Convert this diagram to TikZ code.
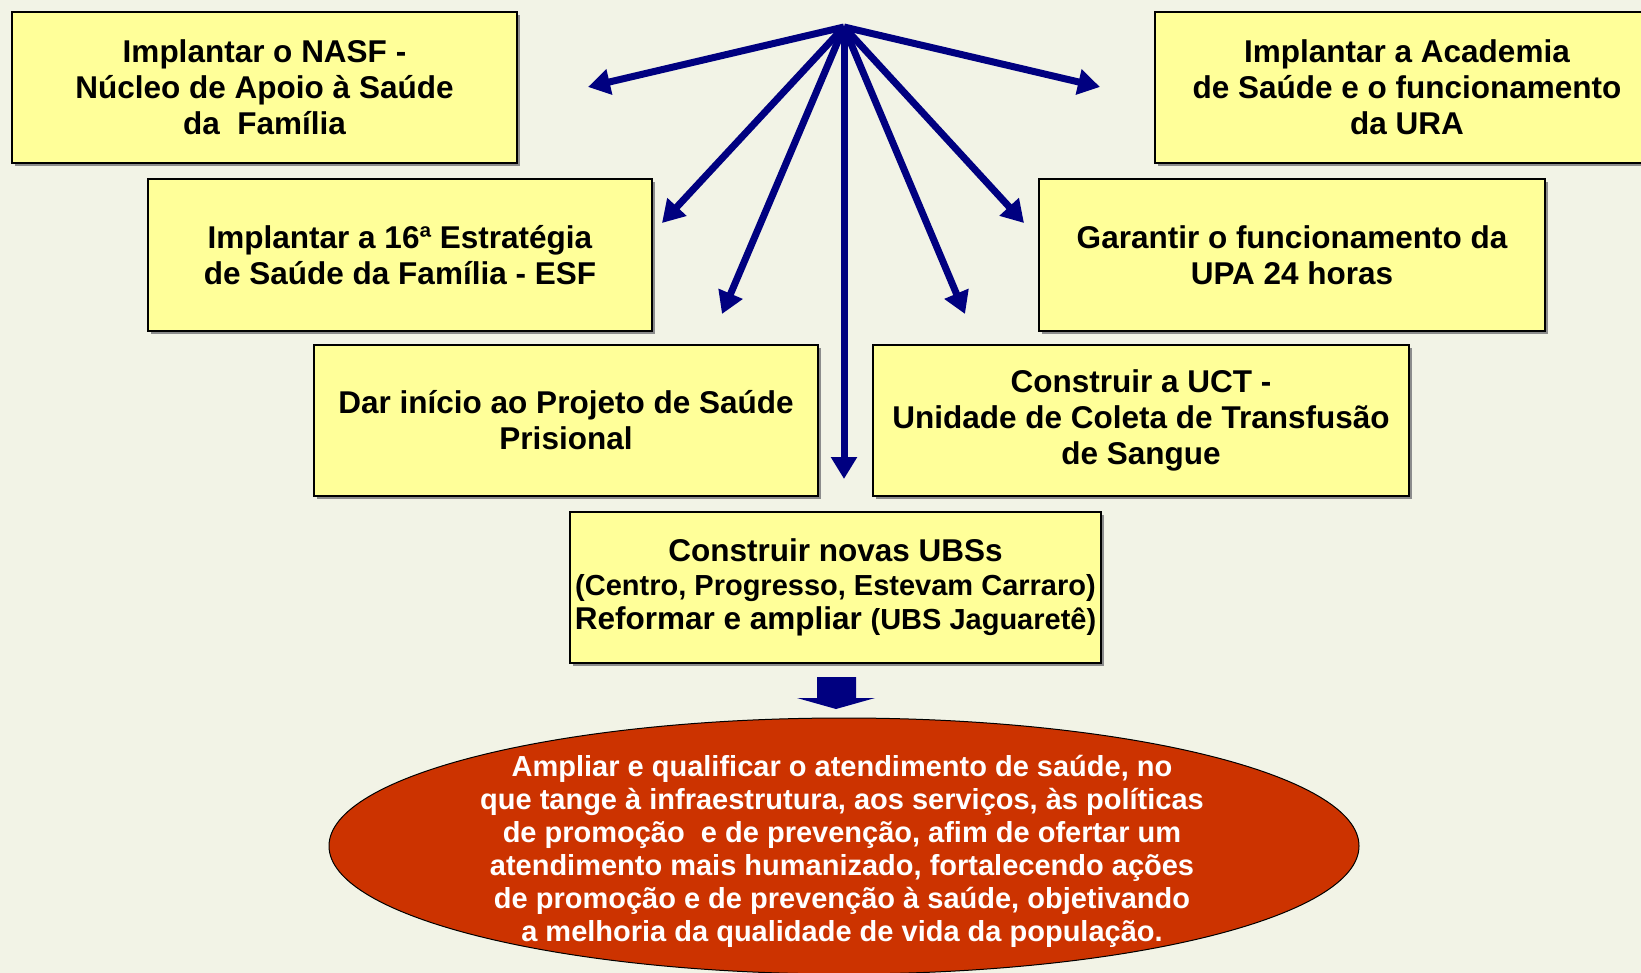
\documentclass[tikz,border=0pt]{standalone}
\usepackage{fontspec}
\setmainfont{Liberation Sans}
\usetikzlibrary{arrows.meta,shapes.geometric,shadows}
\definecolor{bgc}{RGB}{242,243,230}
\definecolor{boxc}{RGB}{255,255,153}
\definecolor{navy}{RGB}{0,0,128}
\definecolor{goalc}{RGB}{204,51,0}
\begin{document}
\begin{tikzpicture}[x=1pt,y=-1pt,
  goalbox/.style={draw=black, line width=1.5pt, fill=boxc, align=center,
    font=\fontsize{31.5}{36}\selectfont\bfseries, inner sep=0pt,
    drop shadow={shadow xshift=3pt, shadow yshift=-3pt, fill=black!45, opacity=1}},
  spoke/.style={draw=navy, line width=7pt, -{Triangle[width=25pt,length=22pt]}},
  goalell/.style={ellipse, draw=black, line width=1pt, fill=goalc, inner sep=0pt,
    minimum width=1030pt, minimum height=256pt},
  goaltext/.style={align=center, text=white, font=\fontsize{29}{33}\selectfont\bfseries, inner sep=0pt}
]
\useasboundingbox (0,0) rectangle (1641,973);
\clip (0,0) rectangle (1641,973);
\fill[bgc] (0,0) rectangle (1641,973);

% hub and arrow ends
\coordinate (o) at (844,27);
\coordinate (t1) at (588,87);
\coordinate (t2) at (662,223);
\coordinate (t3) at (722,314);
\coordinate (t4) at (844,479);
\coordinate (t5) at (965,314);
\coordinate (t6) at (1024,223);
\coordinate (t7) at (1100,87);
\foreach \t in {t1,t2,t3,t4,t5,t6,t7} \draw[spoke] (o) -- (\t);

% boxes
\node[goalbox, minimum width=505pt, minimum height=151pt] (nasf) at (264.5,87.5)
  {Implantar o NASF -\\Núcleo de Apoio à Saúde\\da\ \ Família};
\node[goalbox, minimum width=504pt, minimum height=151pt] (acad) at (1407,87.5)
  {Implantar a Academia\\de Saúde e o funcionamento\\da URA};
\node[goalbox, minimum width=504pt, minimum height=152pt] (esf) at (400,255)
  {Implantar a 16ª Estratégia\\de Saúde da Família - ESF};
\node[goalbox, minimum width=506pt, minimum height=152pt] (upa) at (1292,255)
  {Garantir o funcionamento da\\UPA 24 horas};
\node[goalbox, minimum width=504pt, minimum height=151pt] (pris) at (566,420.5)
  {Dar início ao Projeto de Saúde\\Prisional};
\node[goalbox, minimum width=536pt, minimum height=151pt] (uct) at (1141,420.5)
  {Construir a UCT -\\Unidade de Coleta de Transfusão\\de Sangue};
\node[goalbox, minimum width=531pt, minimum height=151pt, font=\fontsize{29}{34}\selectfont\bfseries] (ubs) at (835.5,587.5)
  {{\fontsize{31.5}{34}\selectfont Construir novas UBSs}\\(Centro, Progresso, Estevam Carraro)\\{\fontsize{31.5}{34}\selectfont Reformar e ampliar }(UBS Jaguaretê)};

% block arrow
\fill[navy] (817,677) -- (856,677) -- (856,698) -- (875,698) -- (836,709)
  -- (797,698) -- (817,698) -- cycle;

% goal ellipse
\node[goalell] (goal) at (844,846) {};
\node[goaltext] (goaltxt) at (842,851)
  {Ampliar e qualificar o atendimento de saúde, no\\
   que tange à infraestrutura, aos serviços, às políticas\\
   de promoção\ \ e de prevenção, afim de ofertar um\\
   atendimento mais humanizado, fortalecendo ações\\
   de promoção e de prevenção à saúde, objetivando\\
   a melhoria da qualidade de vida da população.};
\end{tikzpicture}
\end{document}
